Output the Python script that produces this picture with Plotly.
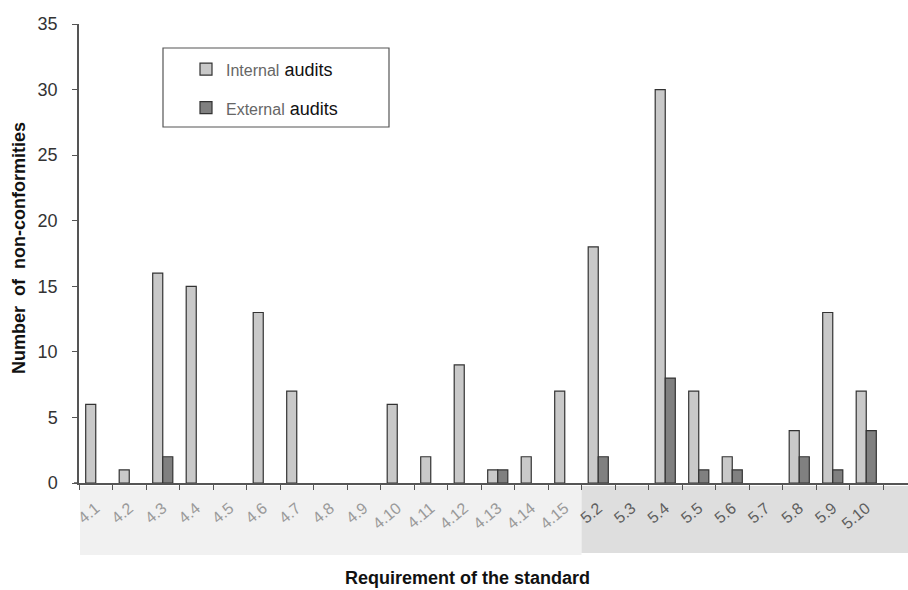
import plotly.graph_objects as go

categories = ["4.1", "4.2", "4.3", "4.4", "4.5", "4.6", "4.7", "4.8", "4.9", "4.10",
              "4.11", "4.12", "4.13", "4.14", "4.15", "5.2", "5.3", "5.4", "5.5", "5.6",
              "5.7", "5.8", "5.9", "5.10"]
internal = [6, 1, 16, 15, 0, 13, 7, 0, 0, 6, 2, 9, 1, 2, 7, 18, 0, 30, 7, 2, 0, 4, 13, 7]
external = [0, 0, 2, 0, 0, 0, 0, 0, 0, 0, 0, 0, 1, 0, 0, 2, 0, 8, 1, 1, 0, 2, 1, 4]
y_ticks = [0, 5, 10, 15, 20, 25, 30, 35]

W, H = 908, 590
L, R, T, B = 79, 0, 24, 107
pw = W - L - R
ph = H - T - B
cat_px = 33.5
xmax = -0.5 + pw / cat_px


def px2paper_x(px):
    return (px - L) / pw


def px2paper_y(py):
    return (H - B - py) / ph


ticktext = []
for c in categories:
    col = "#9a9a9a" if c.startswith("4.") else "#5e5e5e"
    ticktext.append(f"<span style='color:{col}'>{c}</span>")

fig = go.Figure()
fig.add_trace(go.Bar(
    x=categories, y=[v if v else None for v in internal],
    name="<span style='color:#666;font-size:16px'>Internal</span> audits",
    marker=dict(color="#c9c9c9", line=dict(color="#333", width=1.2)),
    legendgroup="a",
))
fig.add_trace(go.Bar(
    x=categories, y=[v if v else None for v in external],
    name="<span style='color:#666;font-size:16px'>External</span> audits",
    marker=dict(color="#808080", line=dict(color="#333", width=1.2)),
    legendgroup="b",
))

split = px2paper_x(L + 15 * cat_px)
shapes = [
    dict(type="rect", xref="paper", yref="paper", x0=px2paper_x(80), x1=split,
         y0=px2paper_y(555), y1=px2paper_y(486), fillcolor="#f1f1f1", line=dict(width=0),
         layer="below"),
    dict(type="rect", xref="paper", yref="paper", x0=split, x1=1.0,
         y0=px2paper_y(553), y1=px2paper_y(486), fillcolor="#dedede", line=dict(width=0),
         layer="below"),
    dict(type="rect", xref="paper", yref="paper", x0=px2paper_x(163), x1=px2paper_x(389),
         y0=px2paper_y(127), y1=px2paper_y(48), fillcolor="rgba(0,0,0,0)",
         line=dict(color="#555", width=1.2)),
    dict(type="line", xref="paper", yref="paper", x0=px2paper_x(74), x1=0,
         y0=0, y1=0, line=dict(color="#555", width=1.5)),
]

fig.update_layout(
    width=W, height=H,
    margin=dict(l=L, r=R, t=T, b=B, pad=0),
    paper_bgcolor="white", plot_bgcolor="white",
    barmode="group", bargap=0.4, bargroupgap=0,
    font=dict(family="Liberation Sans, Arial, sans-serif", color="#333"),
    shapes=shapes,
    showlegend=True,
    legend=dict(x=px2paper_x(186), y=px2paper_y(51), xanchor="left", yanchor="top",
                bgcolor="rgba(0,0,0,0)", borderwidth=0, font=dict(size=18, color="#111"),
                tracegroupgap=12),
    annotations=[
        dict(text="<b>Number  of  non-conformities</b>", xref="paper", yref="paper",
             x=px2paper_x(19), y=px2paper_y(248), textangle=-90, showarrow=False,
             font=dict(size=18, color="#111"), xanchor="center", yanchor="middle"),
        dict(text="<b>Requirement of the standard</b>", xref="paper", yref="paper",
             x=px2paper_x(467), y=px2paper_y(578), showarrow=False,
             font=dict(size=18, color="#111"), xanchor="center", yanchor="middle"),
    ],
)
fig.update_xaxes(
    type="category", range=[-0.5, xmax],
    tickvals=categories, ticktext=ticktext, tickangle=-40,
    tickson="boundaries", ticks="outside", ticklen=5, tickcolor="#555",
    showline=True, linecolor="#555", linewidth=1.5, showgrid=False,
    tickfont=dict(size=16), ticklabelstandoff=8,
)
fig.update_yaxes(
    range=[0, 35], tickvals=y_ticks, ticks="outside", ticklen=5, tickcolor="#555",
    showline=True, linecolor="#555", linewidth=1.5, showgrid=False, zeroline=False,
    tickfont=dict(size=18, color="#333"), ticklabelstandoff=11,
)

fig.write_html("out.html", config={"displayModeBar": False},
               post_script="document.body.style.margin='0';")
